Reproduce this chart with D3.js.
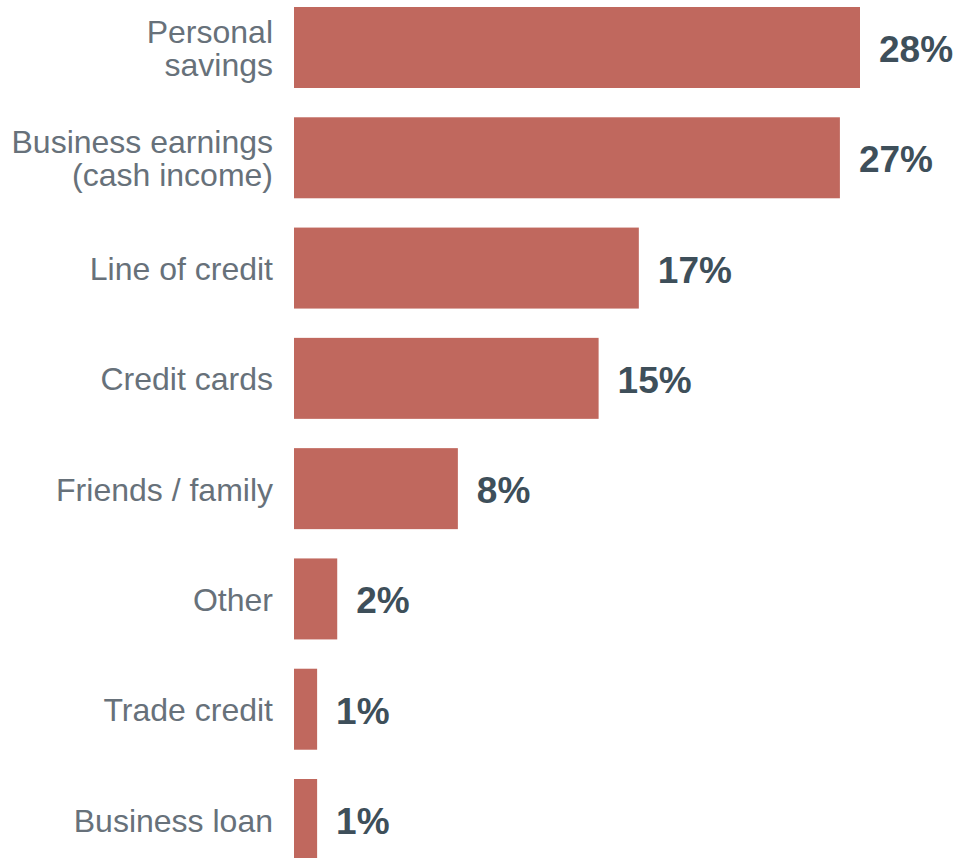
<!DOCTYPE html>
<html>
<head>
<meta charset="utf-8">
<script src="https://cdn.jsdelivr.net/npm/d3@7"></script>
<style>
  html, body { margin: 0; padding: 0; background: #fff; }
  svg { display: block; }
</style>
</head>
<body>
<svg id="chart" width="960" height="858"></svg>
<script>
// Sources of business funding, share of respondents
const categories = [
  ["Personal", "savings"],
  ["Business earnings", "(cash income)"],
  ["Line of credit"],
  ["Credit cards"],
  ["Friends / family"],
  ["Other"],
  ["Trade credit"],
  ["Business loan"]
];
const values = [28, 27, 17, 15, 8, 2, 1, 1];
const valueLabels = ["28%", "27%", "17%", "15%", "8%", "2%", "1%", "1%"];

const svg = d3.select("#chart");
const ids = d3.range(categories.length);

const x = d3.scaleLinear().domain([-0.15, 28]).range([294, 860]);
const y = d3.scaleBand().domain(ids).range([7, 860]).paddingInner(0.2656).paddingOuter(0);

const barColor = "#c0685e";

svg.append("g").selectAll("rect")
  .data(ids)
  .join("rect")
  .attr("x", x.range()[0])
  .attr("y", i => y(i))
  .attr("width", i => x(values[i]) - x.range()[0])
  .attr("height", y.bandwidth())
  .attr("fill", barColor);

// value labels to the right of each bar
svg.append("g").selectAll("text")
  .data(ids)
  .join("text")
  .attr("x", i => x(values[i]) + 19)
  .attr("y", i => y(i) + y.bandwidth() / 2)
  .attr("dy", "0.39em")
  .attr("font-family", "'Liberation Sans', Arial, sans-serif")
  .attr("font-weight", "bold")
  .attr("font-size", 37)
  .attr("fill", "#3e4f5a")
  .text(i => valueLabels[i]);

// category labels, right-aligned against the bars
const lineH = 33;
const cat = svg.append("g").selectAll("text")
  .data(ids)
  .join("text")
  .attr("text-anchor", "end")
  .attr("font-family", "'Liberation Sans', Arial, sans-serif")
  .attr("font-size", 32)
  .attr("fill", "#67717a")
  .attr("y", i => y(i) + y.bandwidth() / 2);

cat.selectAll("tspan")
  .data(i => categories[i].map((t, k, arr) => ({ t, off: (k - (arr.length - 1) / 2) * lineH })))
  .join("tspan")
  .attr("x", 273)
  .attr("dy", (d, k, nodes) => {
    const prev = k === 0 ? 0 : d3.select(nodes[k - 1]).datum().off;
    return k === 0 ? d.off + 12 : d.off - prev;
  })
  .text(d => d.t);
</script>
</body>
</html>
